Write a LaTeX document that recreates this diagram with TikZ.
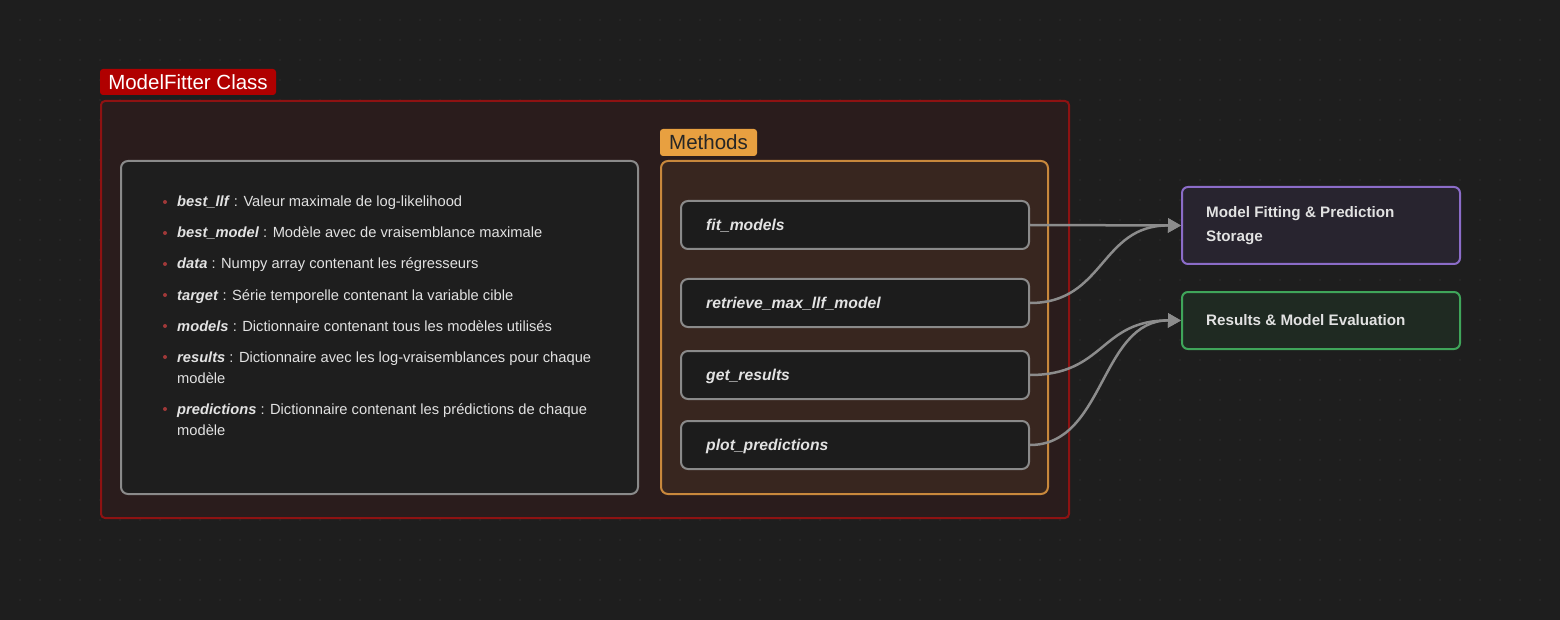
\documentclass[tikz,border=0pt]{standalone}
\usepackage{fontspec}
\setmainfont{Liberation Sans}
\usetikzlibrary{arrows.meta}
\definecolor{bg}{HTML}{1E1E1E}
\definecolor{dotc}{HTML}{2E2E2E}
\definecolor{outerfill}{HTML}{2A1C1C}
\definecolor{outerdraw}{HTML}{8E1212}
\definecolor{redlab}{HTML}{B00000}
\definecolor{attrfill}{HTML}{1E1E1E}
\definecolor{greyline}{HTML}{8A8A8A}
\definecolor{methfill}{HTML}{38261F}
\definecolor{methdraw}{HTML}{C8883C}
\definecolor{methlab}{HTML}{E8A040}
\definecolor{nodefill}{HTML}{1C1C1C}
\definecolor{purpdraw}{HTML}{8B6CC8}
\definecolor{purpfill}{HTML}{28242F}
\definecolor{grndraw}{HTML}{3FA55A}
\definecolor{grnfill}{HTML}{1F2A22}
\definecolor{txt}{HTML}{E2E2E2}
\definecolor{bullet}{HTML}{A03838}
\definecolor{arrowc}{HTML}{8C8C8C}
\tikzset{
  box/.style={rectangle, inner sep=0pt, line width=2pt},
  lab/.style={rectangle, rounded corners=3pt, inner sep=0pt, font=\fontsize{20.5}{24}\selectfont},
  methnode/.style={box, rounded corners=7pt, fill=nodefill, draw=greyline, minimum width=348pt, minimum height=48pt},
  methtext/.style={anchor=base west, inner sep=0pt, text=txt, font=\fontsize{15.7}{18}\selectfont\bfseries\itshape},
  attr/.style={anchor=base west, inner sep=0pt, text=txt, font=\fontsize{14.7}{21}\selectfont},
  bul/.style={circle, fill=bullet, inner sep=0pt, minimum size=4pt},
  outbox/.style={box, rounded corners=6pt, minimum width=278pt, anchor=north west},
  outtext/.style={anchor=base west, inner sep=0pt, text=txt, font=\fontsize{15.2}{24}\selectfont\bfseries},
  conn/.style={draw=arrowc, line width=2.5pt, -{Triangle[length=13pt,width=14pt]}}
}
\begin{document}
\begin{tikzpicture}[x=1pt,y=-1pt]
\fill[bg] (0,0) rectangle (1560,620);
\useasboundingbox (0,0) rectangle (1560,620);
\foreach \i in {1,...,77} {\foreach \j in {1,...,30} {\fill[dotc] (20*\i,20*\j) circle (0.9);}}
% outer class box
\node[box, rounded corners=4pt, fill=outerfill, draw=outerdraw, minimum width=968pt, minimum height=417pt] (outer) at (585,309.5) {};
\node[lab, fill=redlab, text=white, minimum width=176pt, minimum height=26pt] (classlab) at (188,82) {ModelFitter Class};
% attributes box
\node[box, rounded corners=7pt, fill=attrfill, draw=greyline, minimum width=517pt, minimum height=333pt] (attrs) at (379.5,327.5) {};
\foreach \y in {202,233,264,295,326,357,409} {\node[bul] at (165,\y) {};}
\node[attr] (a1) at (177,207) {\textbf{\textit{best\_llf}} : Valeur maximale de log-likelihood};
\node[attr] (a2) at (177,238) {\textbf{\textit{best\_model}} : Modèle avec de vraisemblance maximale};
\node[attr] (a3) at (177,269) {\textbf{\textit{data}} : Numpy array contenant les régresseurs};
\node[attr] (a4) at (177,300) {\textbf{\textit{target}} : Série temporelle contenant la variable cible};
\node[attr] (a5) at (177,331) {\textbf{\textit{models}} : Dictionnaire contenant tous les modèles utilisés};
\node[attr] (a6) at (177,362) {\textbf{\textit{results}} : Dictionnaire avec les log-vraisemblances pour chaque};
\node[attr] (a6b) at (177,383) {modèle};
\node[attr] (a7) at (177,414) {\textbf{\textit{predictions}} : Dictionnaire contenant les prédictions de chaque};
\node[attr] (a7b) at (177,435) {modèle};
% methods box
\node[box, rounded corners=7pt, fill=methfill, draw=methdraw, minimum width=387pt, minimum height=333pt] (meths) at (854.5,327.5) {};
\node[lab, fill=methlab, text=black!85, minimum width=97pt, minimum height=27pt] (methlabel) at (708.5,142.5) {Methods};
\node[methnode] (fit) at (855,225) {};
\node[methtext] at (706,230.5) {fit\_models};
\node[methnode] (ret) at (855,303) {};
\node[methtext] at (706,308.5) {retrieve\_max\_llf\_model};
\node[methnode] (get) at (855,375) {};
\node[methtext] at (706,380.5) {get\_results};
\node[methnode] (plot) at (855,445) {};
\node[methtext] at (706,450.5) {plot\_predictions};
% right boxes
\node[outbox, fill=purpfill, draw=purpdraw, minimum height=77pt] (store) at (1181,186) {};
\node[outtext] at (1206,217.5) {Model Fitting \& Prediction};
\node[outtext] at (1206,241.5) {Storage};
\node[outbox, fill=grnfill, draw=grndraw, minimum height=57pt] (eval) at (1181,291) {};
\node[outtext] at (1206,325) {Results \& Model Evaluation};
% connectors
\draw[conn] (fit.east) -- (store.west);
\draw[conn] (ret.east) .. controls (1105,303) and (1100,225) .. (store.west);
\draw[conn] (get.east) .. controls (1105,375) and (1100,320) .. (eval.west);
\draw[conn] (plot.east) .. controls (1105,445) and (1100,320) .. (eval.west);
\end{tikzpicture}
\end{document}
